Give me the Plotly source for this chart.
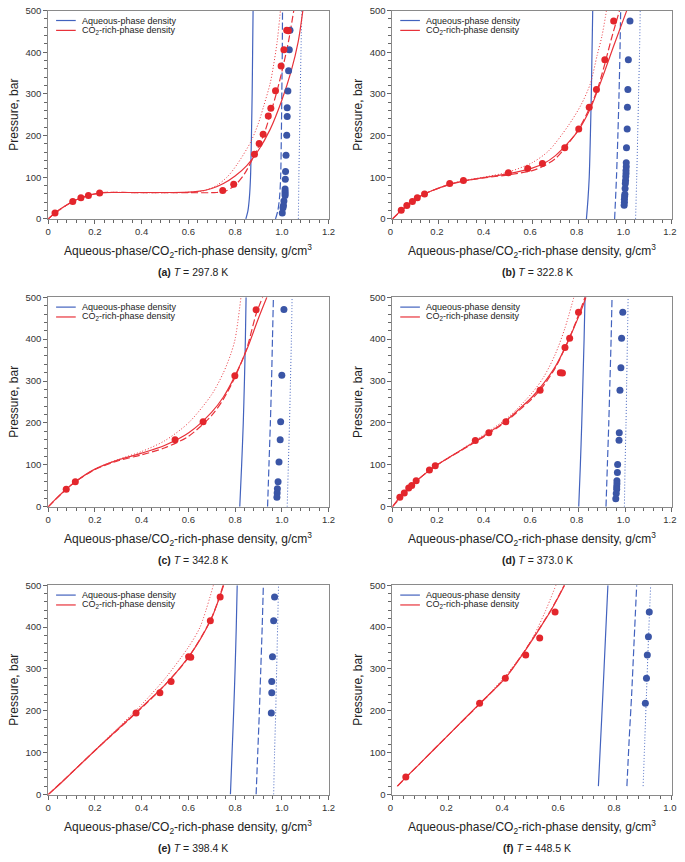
import plotly.graph_objects as go

FONT = "Arial, 'Liberation Sans', Helvetica, sans-serif"

# ---------------- tick labels ----------------
x_ticks_12 = [0, 0.2, 0.4, 0.6, 0.8, 1.0, 1.2]
x_labels_12 = ["0", "0.2", "0.4", "0.6", "0.8", "1.0", "1.2"]
x_ticks_10 = [0, 0.2, 0.4, 0.6, 0.8, 1.0]
x_labels_10 = ["0", "0.2", "0.4", "0.6", "0.8", "1.0"]
y_ticks = [0, 100, 200, 300, 400, 500]
y_labels = ["0", "100", "200", "300", "400", "500"]

panel_letters = ["(a)", "(b)", "(c)", "(d)", "(e)", "(f)"]
temperatures = ["297.8", "322.8", "342.8", "373.0", "398.4", "448.5"]
x_max = [1.2, 1.2, 1.2, 1.2, 1.2, 1.0]

# ---------------- panel (a) T = 297.8 K ----------------
a_co2_rho = [0.029, 0.105, 0.14, 0.172, 0.22, 0.747, 0.794, 0.883, 0.903, 0.92, 0.942, 0.953, 0.973, 0.997, 1.009, 1.021, 1.028]
a_co2_p = [14, 42, 51, 56, 62, 68, 83, 155, 181, 203, 247, 266, 308, 367, 406, 453, 452]
a_aq_rho = [1.035, 1.032, 1.029, 1.026, 1.023, 1.023, 1.021, 1.018, 1.016, 1.015, 1.014, 1.014, 1.014, 1.014, 1.009, 1.007, 1.005, 1.002]
a_aq_p = [453, 406, 356, 307, 267, 246, 201, 153, 114, 95, 72, 66, 61, 56, 43, 32, 27, 14]
a_co2_solid = [(0, 0), (0.03, 15), (0.06, 27), (0.105, 42), (0.14, 51), (0.17, 56), (0.2, 60), (0.23, 63), (0.3, 63.5), (0.4, 63.5), (0.5, 63.5), (0.58, 64), (0.64, 66), (0.7, 73), (0.75, 85), (0.8, 103), (0.85, 128), (0.9, 165), (0.95, 215), (1.0, 285), (1.04, 355), (1.07, 425), (1.09, 500)]
a_co2_dash = [(0, 0), (0.03, 15), (0.105, 42), (0.17, 56), (0.23, 63), (0.4, 63), (0.6, 63), (0.72, 63.5), (0.76, 67), (0.8, 81), (0.84, 108), (0.88, 150), (0.92, 198), (0.95, 250), (0.98, 308), (1.005, 365), (1.03, 430), (1.051, 500)]
a_co2_dot = [(0, 0), (0.105, 42), (0.17, 56), (0.23, 63), (0.4, 63), (0.58, 63.5), (0.66, 67), (0.72, 80), (0.77, 103), (0.811, 133), (0.867, 185), (0.9, 230), (0.923, 272), (0.95, 325), (0.965, 370), (0.98, 425), (0.994, 500)]
a_aq_solid = [(0.846, 0), (0.855, 20), (0.861, 50), (0.866, 100), (0.870, 200), (0.873, 300), (0.875, 400), (0.877, 500)]
a_aq_dash = [(0.973, 0), (0.983, 20), (0.99, 50), (0.995, 100), (0.998, 200), (1.0, 300), (1.002, 400), (1.003, 500)]
a_aq_dot = [(1.071, 0), (1.073, 100), (1.076, 200), (1.079, 300), (1.082, 400), (1.086, 500)]

# ---------------- panel (b) T = 322.8 K ----------------
b_co2_rho = [0.038, 0.062, 0.086, 0.107, 0.138, 0.246, 0.305, 0.498, 0.581, 0.644, 0.74, 0.80, 0.845, 0.876, 0.912, 0.95]
b_co2_p = [21, 32, 42, 51, 60, 85, 92, 111, 121, 133, 171, 216, 268, 311, 382, 475]
b_aq_rho = [1.02, 1.013, 1.011, 1.009, 1.008, 1.005, 1.004, 1.004, 1.003, 1.003, 1.002, 1.001, 1.0, 0.999, 0.998, 0.997, 0.996, 0.996, 0.995]
b_aq_p = [475, 382, 311, 268, 216, 171, 135, 125, 116, 109, 102, 92, 85, 73, 59, 54, 47, 40, 33]
b_co2_solid = [(0, 0), (0.038, 21), (0.062, 32), (0.086, 42), (0.107, 51), (0.138, 60), (0.18, 70), (0.246, 83), (0.305, 91), (0.4, 100), (0.5, 109), (0.6, 122), (0.65, 133), (0.7, 152), (0.75, 180), (0.8, 214), (0.85, 265), (0.9, 337), (0.95, 415), (1.006, 500)]
b_co2_dash = [(0, 0), (0.086, 42), (0.138, 60), (0.246, 83), (0.305, 91), (0.4, 99), (0.5, 106), (0.6, 116), (0.65, 127), (0.7, 145), (0.74, 170), (0.8, 216), (0.85, 270), (0.88, 311), (0.91, 368), (0.94, 432), (0.975, 500)]
b_co2_dot = [(0, 0), (0.086, 42), (0.138, 60), (0.246, 84), (0.305, 92), (0.4, 101), (0.5, 113), (0.6, 135), (0.67, 163), (0.754, 223), (0.811, 275), (0.85, 325), (0.879, 393), (0.9, 440), (0.919, 500)]
b_aq_solid = [(0.833, 0), (0.840, 50), (0.845, 100), (0.850, 200), (0.854, 300), (0.857, 400), (0.860, 500)]
b_aq_dash = [(0.954, 0), (0.962, 100), (0.968, 200), (0.973, 300), (0.977, 400), (0.98, 500)]
b_aq_dot = [(1.044, 0), (1.049, 100), (1.053, 200), (1.057, 300), (1.061, 400), (1.064, 500)]

# ---------------- panel (c) T = 342.8 K ----------------
c_co2_rho = [0.077, 0.116, 0.543, 0.663, 0.799, 0.89]
c_co2_p = [42, 60, 160, 203, 313, 470]
c_aq_rho = [1.009, 1.0, 0.995, 0.993, 0.988, 0.984, 0.981, 0.98, 0.979]
c_aq_p = [471, 314, 203, 160, 107, 60, 43, 33, 23]
c_co2_solid = [(0, 0), (0.04, 23), (0.077, 42), (0.116, 60), (0.2, 90), (0.3, 112), (0.4, 128), (0.5, 147), (0.6, 176), (0.7, 226), (0.75, 262), (0.8, 313), (0.85, 375), (0.9, 450), (0.936, 500)]
c_co2_dash = [(0, 0), (0.077, 42), (0.116, 60), (0.2, 89), (0.3, 110), (0.4, 124), (0.5, 141), (0.6, 168), (0.7, 218), (0.75, 257), (0.8, 310), (0.85, 378), (0.89, 460), (0.918, 500)]
c_co2_dot = [(0, 0), (0.077, 42), (0.116, 60), (0.2, 90), (0.3, 113), (0.4, 132), (0.5, 158), (0.6, 200), (0.7, 268), (0.75, 320), (0.78, 362), (0.8, 400), (0.825, 500)]
c_aq_solid = [(0.82, 0), (0.828, 100), (0.835, 200), (0.84, 300), (0.844, 400), (0.847, 500)]
c_aq_dash = [(0.939, 0), (0.945, 100), (0.951, 200), (0.956, 300), (0.96, 400), (0.964, 500)]
c_aq_dot = [(1.023, 0), (1.028, 100), (1.033, 200), (1.037, 300), (1.041, 400), (1.044, 500)]

# ---------------- panel (d) T = 373.0 K ----------------
d_co2_rho = [0.032, 0.051, 0.07, 0.083, 0.102, 0.159, 0.184, 0.356, 0.414, 0.487, 0.634, 0.721, 0.73, 0.741, 0.761, 0.799]
d_co2_p = [23, 33, 45, 51, 62, 88, 98, 158, 177, 203, 278, 320, 319, 380, 402, 464]
d_aq_rho = [0.989, 0.984, 0.981, 0.977, 0.974, 0.973, 0.967, 0.966, 0.964, 0.964, 0.963, 0.963, 0.961, 0.959]
d_aq_p = [464, 402, 332, 278, 177, 159, 101, 82, 62, 55, 48, 42, 32, 19]
d_co2_solid = [(0, 0), (0.032, 23), (0.051, 33), (0.07, 45), (0.086, 52), (0.102, 61), (0.159, 87), (0.184, 97), (0.25, 120), (0.3, 137), (0.356, 156), (0.414, 177), (0.487, 205), (0.55, 236), (0.6, 262), (0.65, 295), (0.7, 335), (0.74, 378), (0.78, 428), (0.81, 468), (0.831, 500)]
d_co2_dash = [(0, 0), (0.102, 61), (0.184, 97), (0.3, 136), (0.4, 170), (0.487, 203), (0.55, 233), (0.6, 258), (0.65, 290), (0.7, 332), (0.74, 378), (0.78, 430), (0.827, 500)]
d_co2_dot = [(0, 0), (0.102, 61), (0.184, 98), (0.3, 138), (0.4, 175), (0.5, 215), (0.6, 272), (0.65, 310), (0.7, 365), (0.74, 425), (0.779, 500)]
d_aq_solid = [(0.80, 0), (0.807, 100), (0.813, 200), (0.818, 300), (0.823, 400), (0.827, 500)]
d_aq_dash = [(0.917, 0), (0.923, 100), (0.929, 200), (0.934, 300), (0.939, 400), (0.943, 500)]
d_aq_dot = [(0.996, 0), (0.999, 100), (1.003, 200), (1.006, 300), (1.009, 400), (1.012, 500)]

# ---------------- panel (e) T = 398.4 K ----------------
e_co2_rho = [0.376, 0.478, 0.526, 0.601, 0.61, 0.694, 0.736]
e_co2_p = [195, 243, 270, 329, 328, 415, 472]
e_aq_rho = [0.969, 0.965, 0.96, 0.957, 0.957, 0.955]
e_aq_p = [472, 415, 329, 270, 243, 195]
e_co2_solid = [(0, 0), (0.05, 25), (0.1, 52), (0.2, 105), (0.3, 157), (0.376, 196), (0.45, 235), (0.5, 262), (0.55, 293), (0.6, 328), (0.65, 370), (0.7, 422), (0.751, 500)]
e_co2_dash = [(0, 0), (0.1, 52), (0.2, 105), (0.3, 156), (0.4, 207), (0.5, 262), (0.6, 327), (0.7, 423), (0.749, 500)]
e_co2_dot = [(0, 0), (0.1, 52), (0.2, 106), (0.3, 160), (0.4, 215), (0.5, 277), (0.6, 352), (0.65, 400), (0.707, 500)]
e_aq_solid = [(0.78, 0), (0.787, 100), (0.794, 200), (0.80, 300), (0.805, 400), (0.809, 500)]
e_aq_dash = [(0.89, 0), (0.897, 100), (0.904, 200), (0.91, 300), (0.916, 400), (0.921, 500)]
e_aq_dot = [(0.965, 0), (0.969, 100), (0.974, 200), (0.978, 300), (0.982, 400), (0.986, 500)]

# ---------------- panel (f) T = 448.5 K ----------------
f_co2_rho = [0.048, 0.312, 0.404, 0.477, 0.527, 0.582]
f_co2_p = [42, 218, 278, 333, 374, 436]
f_aq_rho = [0.905, 0.909, 0.912, 0.916, 0.919]
f_aq_p = [218, 278, 333, 377, 436]
f_co2_solid = [(0.018, 20), (0.048, 41), (0.1, 75), (0.2, 142), (0.312, 217), (0.404, 278), (0.464, 333), (0.5, 369), (0.53, 400), (0.564, 436), (0.59, 467), (0.616, 500)]
f_co2_dash = [(0.018, 20), (0.1, 75), (0.2, 142), (0.312, 216), (0.404, 279), (0.464, 334), (0.5, 370), (0.53, 401), (0.564, 437), (0.59, 468), (0.615, 500)]
f_co2_dot = [(0.018, 20), (0.1, 75), (0.2, 142), (0.3, 208), (0.4, 280), (0.45, 322), (0.5, 372), (0.546, 436), (0.585, 500)]
f_aq_solid = [(0.737, 20), (0.745, 130), (0.753, 240), (0.762, 370), (0.771, 500)]
f_aq_dash = [(0.839, 20), (0.847, 130), (0.856, 240), (0.865, 370), (0.874, 500)]
f_aq_dot = [(0.897, 20), (0.903, 130), (0.909, 240), (0.916, 370), (0.924, 500)]

# ---------------- assemble ----------------
panels = [
    (a_co2_rho, a_co2_p, a_aq_rho, a_aq_p, a_co2_solid, a_co2_dash, a_co2_dot, a_aq_solid, a_aq_dash, a_aq_dot),
    (b_co2_rho, b_co2_p, b_aq_rho, b_aq_p, b_co2_solid, b_co2_dash, b_co2_dot, b_aq_solid, b_aq_dash, b_aq_dot),
    (c_co2_rho, c_co2_p, c_aq_rho, c_aq_p, c_co2_solid, c_co2_dash, c_co2_dot, c_aq_solid, c_aq_dash, c_aq_dot),
    (d_co2_rho, d_co2_p, d_aq_rho, d_aq_p, d_co2_solid, d_co2_dash, d_co2_dot, d_aq_solid, d_aq_dash, d_aq_dot),
    (e_co2_rho, e_co2_p, e_aq_rho, e_aq_p, e_co2_solid, e_co2_dash, e_co2_dot, e_aq_solid, e_aq_dash, e_aq_dot),
    (f_co2_rho, f_co2_p, f_aq_rho, f_aq_p, f_co2_solid, f_co2_dash, f_co2_dot, f_aq_solid, f_aq_dash, f_aq_dot),
]

W, H = 685, 862
RED_LINE = "#e8323a"
RED_DOT = "#e3262c"
BLUE_LINE = "#4262be"
BLUE_DOT = "#3a55a6"

# pixel geometry of plot areas (left, right, top, bottom)
cols = [(44.0, 329.3), (394.3, 678.8)]
rows = [(4.7, 215.7), (295.0, 507.3), (586.7, 798.7)]

fig = go.Figure()
layout_axes = {}
annotations = []
shapes = []

for i, pdata in enumerate(panels):
    co2_rho, co2_p, aq_rho, aq_p, co2_s, co2_d, co2_o, aq_s, aq_d, aq_o = pdata
    r, c = divmod(i, 2)
    left, right = cols[c]
    top, bottom = rows[r]
    sfx = "" if i == 0 else str(i + 1)
    xa, ya = "x" + sfx, "y" + sfx

    def line(pts, color, dash, width, shape="spline"):
        fig.add_trace(go.Scatter(
            x=[p[0] for p in pts], y=[p[1] for p in pts], mode="lines",
            line=dict(color=color, width=width, dash=dash, shape=shape, smoothing=0.8),
            xaxis=xa, yaxis=ya, showlegend=False, hoverinfo="skip"))

    line(aq_o, BLUE_LINE, "1px,2px", 1.0)
    line(aq_d, BLUE_LINE, "7px,3px", 1.2)
    line(aq_s, BLUE_LINE, "solid", 1.2)
    line(co2_o, RED_LINE, "1px,2px", 1.0)
    line(co2_d, RED_LINE, "7px,3px", 1.2)
    line(co2_s, RED_LINE, "solid", 1.2)

    fig.add_trace(go.Scatter(x=aq_rho, y=aq_p, mode="markers",
                             marker=dict(color=BLUE_DOT, size=7, line=dict(width=0)),
                             xaxis=xa, yaxis=ya, showlegend=False, cliponaxis=False))
    fig.add_trace(go.Scatter(x=co2_rho, y=co2_p, mode="markers",
                             marker=dict(color=RED_DOT, size=7, line=dict(width=0)),
                             xaxis=xa, yaxis=ya, showlegend=False, cliponaxis=False))

    xmax = x_max[i]
    tv, tt = (x_ticks_12, x_labels_12) if xmax > 1.1 else (x_ticks_10, x_labels_10)
    common = dict(showline=True, linecolor="#8a8a8a", linewidth=1, mirror=True,
                  ticks="outside", ticklen=4, tickwidth=1, tickcolor="#666",
                  showgrid=False, zeroline=False, ticklabeloverflow="allow",
                  tickfont=dict(family=FONT, size=9.5, color="#333"))
    layout_axes["xaxis" + sfx] = dict(
        common, domain=[left / W, right / W], range=[0, xmax], anchor=ya,
        tickmode="array", tickvals=tv, ticktext=tt,
        ticklabelshift=(-2 if c == 1 else 0),
        minor=dict(ticks="outside", ticklen=3, tickwidth=1, tickcolor="#666",
                   tickmode="linear", tick0=0, dtick=0.04, showgrid=False))
    layout_axes["yaxis" + sfx] = dict(
        common, domain=[1 - bottom / H, 1 - top / H], range=[0, 500], anchor=xa,
        tickmode="array", tickvals=y_ticks, ticktext=y_labels,
        minor=dict(ticks="outside", ticklen=3, tickwidth=1, tickcolor="#666",
                   tickmode="linear", tick0=0, dtick=20, showgrid=False))

    cx = (left + right) / 2 / W
    annotations.append(dict(
        x=cx, y=1 - (bottom + 32.8) / H, xref="paper", yref="paper",
        text="Aqueous-phase/CO<sub>2</sub>-rich-phase density, g/cm<sup>3</sup>",
        showarrow=False, xanchor="center", yanchor="middle",
        font=dict(family=FONT, size=12, color="#222")))
    annotations.append(dict(
        x=cx + 5 / W, y=1 - (bottom + 54) / H, xref="paper", yref="paper",
        text="<b>" + panel_letters[i] + "</b> <i>T</i> = " + temperatures[i] + " K",
        showarrow=False, xanchor="center", yanchor="middle",
        font=dict(family=FONT, size=10.5, color="#222")))
    annotations.append(dict(
        x=(left - 35) / W, y=1 - (top + bottom) / 2 / H, xref="paper", yref="paper",
        text="Pressure, bar", textangle=-90, showarrow=False,
        xanchor="center", yanchor="middle",
        font=dict(family=FONT, size=12, color="#222")))

    # in-panel legend
    pw, ph = right - left, bottom - top
    for k, (lab, col) in enumerate([("Aqueous-phase density", BLUE_LINE),
                                    ("CO<sub>2</sub>-rich-phase density", RED_LINE)]):
        yy = 1 - (10 + 10 * k) / ph
        shapes.append(dict(type="line", xref=xa + " domain", yref=ya + " domain",
                           x0=8 / pw, x1=28 / pw, y0=yy, y1=yy,
                           line=dict(color=col, width=1.2)))
        annotations.append(dict(
            x=32 / pw, y=yy, xref=xa + " domain", yref=ya + " domain",
            text=lab, showarrow=False, xanchor="left", yanchor="middle",
            font=dict(family=FONT, size=9, color="#222")))

fig.update_layout(
    width=W, height=H, margin=dict(l=0, r=0, t=0, b=0),
    paper_bgcolor="white", plot_bgcolor="white",
    showlegend=False, annotations=annotations, shapes=shapes,
    font=dict(family=FONT),
    **layout_axes)

fig.write_html("out.html",
               config={"displayModeBar": False},
               post_script="document.body.style.margin='0';document.body.style.overflow='hidden';")
